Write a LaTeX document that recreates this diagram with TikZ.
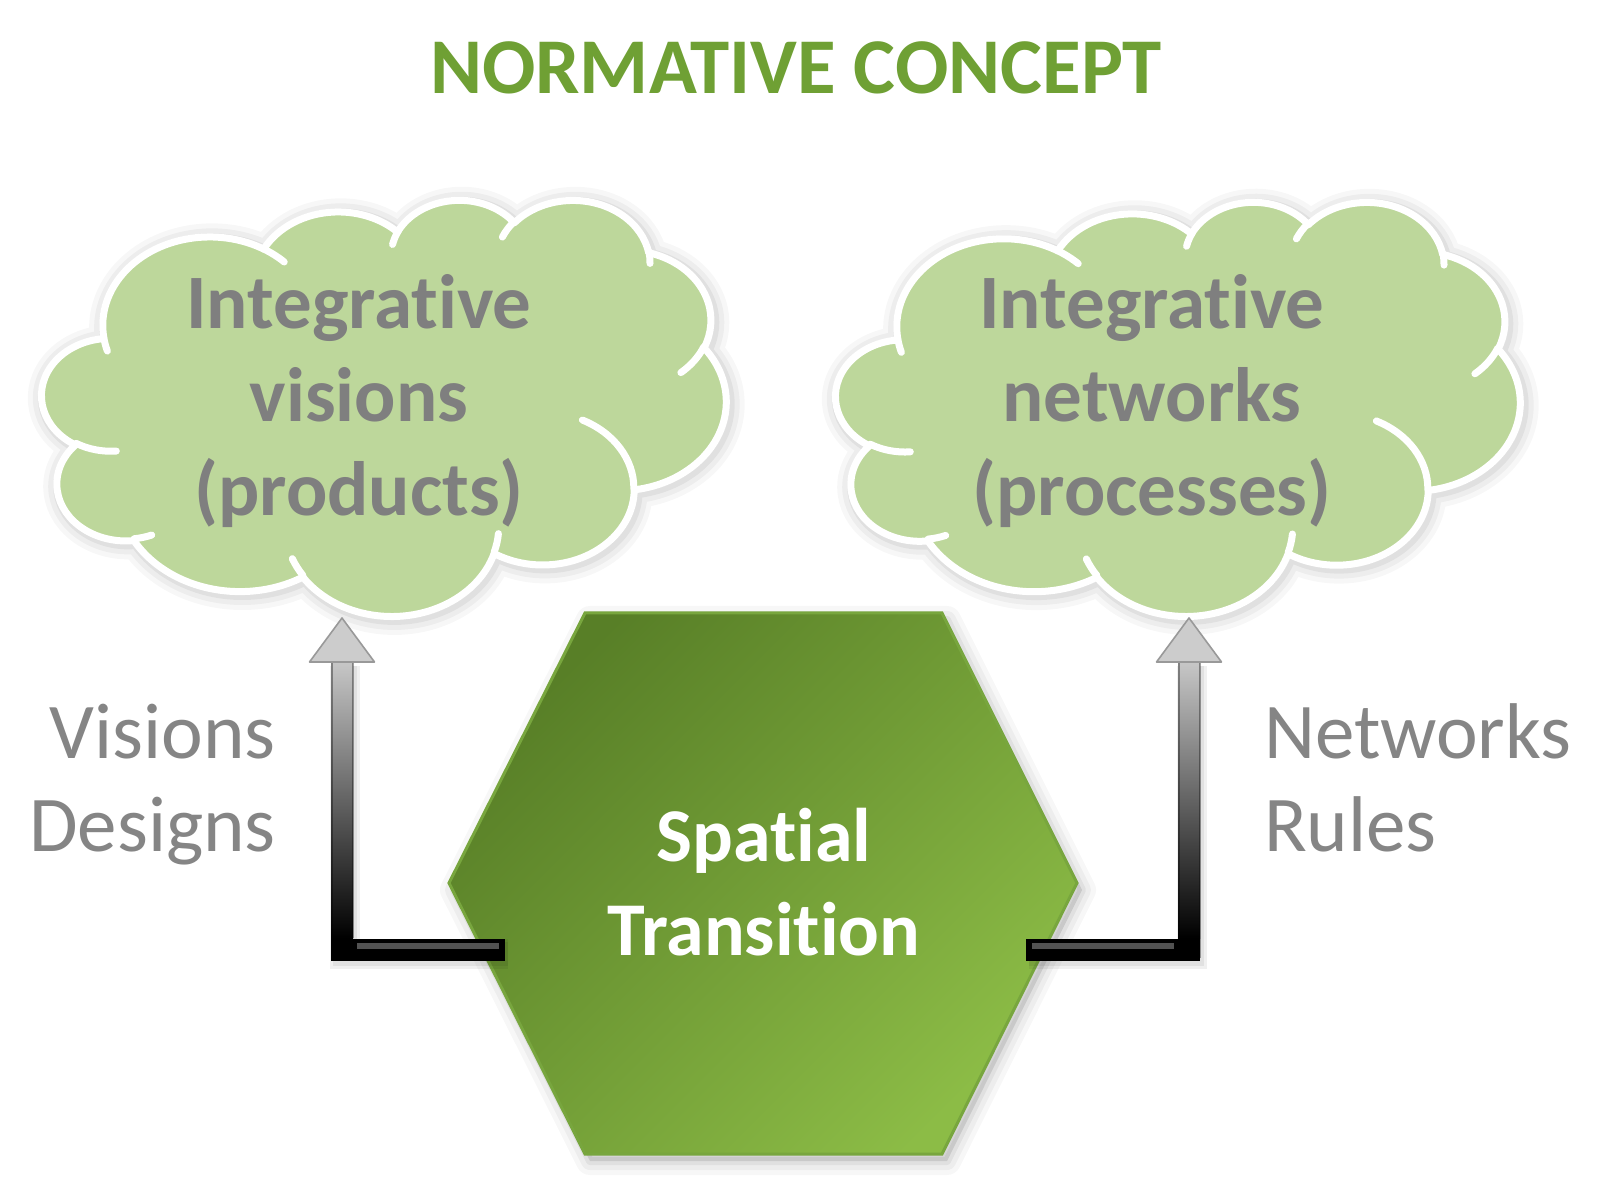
\documentclass[tikz,border=0pt]{standalone}
\usepackage{fontspec}
\setmainfont{Carlito}[Ligatures={NoCommon,NoContextual}]
\usetikzlibrary{calc}
\definecolor{cloudfill}{HTML}{BDD79B}
\definecolor{txtgray}{HTML}{7F7F7F}
\definecolor{sidegray}{HTML}{858585}
\definecolor{titlegreen}{HTML}{6FA034}
\definecolor{hexdark}{HTML}{587F27}
\definecolor{hexlight}{HTML}{8CBC46}
\definecolor{hexedge}{HTML}{78A63E}
\newcommand\mkarc[5]{%
  \pgfmathsetmacro\tmpS{vp(#4,#2,#3)}%
  \pgfmathsetmacro\tmpE{vp(#4+#5,#2,#3)}%
  \expandafter\xdef\csname cl#1\endcsname{arc[x radius=#2pt,y radius=#3pt,start angle=\tmpS,end angle=\tmpE]}%
}
\newcommand\drawcloud[4]{%
  \begin{scope}[shift={(#1,#2)},x=1pt,y=1pt,xscale=#3/864,yscale=-#4/864]
    \foreach \lw/\op in {16/0.03,11/0.04,6/0.05}
      \draw[black,opacity=\op,line width=\lw pt,line join=round,shift={(1.5,2.5)}] \cloudouter;
    \fill[black,opacity=0.10,shift={(1.5,2.5)}] \cloudouter;
    \filldraw[fill=cloudfill,draw=white,line width=3.5pt,line join=round] \cloudouter;
    \draw[cloudarc] (46.93,261.77) \clia;
    \draw[cloudarc] (69.28,348.99) \clib;
    \draw[cloudarc] (164.78,390.90) \clic;
    \draw[cloudarc] (288.27,347.51) \clid;
    \draw[cloudarc] (341.29,229.54) \clie;
    \draw[cloudarc] (417.98,153.54) \clif;
    \draw[cloudarc] (383.24,54.26) \clig;
    \draw[cloudarc] (290.78,39.52) \clih;
    \draw[cloudarc] (221.41,47.20) \clii;
    \draw[cloudarc] (140.00,51.92) \clij;
    \draw[cloudarc] (41.27,157.89) \clik;
  \end{scope}%
}
\begin{document}
\begin{tikzpicture}[x=0.5pt,y=-0.5pt,
  declare function={vp(\a,\w,\h)=\a+mod(atan2(\w*sin(\a),\h*cos(\a))-(\a)+900,360)-180;},
  cloudarc/.style={white,line width=3.5pt,line cap=round},
  cloudtext/.style={font=\bfseries\fontsize{38.5}{46.75}\selectfont,text=txtgray,align=center},
  hextext/.style={font=\bfseries\fontsize{38}{47}\selectfont,text=white,align=center},
  sidetext/.style={font=\fontsize{39.5}{46.5}\selectfont,text=sidegray},
  titletext/.style={font=\bfseries\fontsize{39.5}{48}\selectfont,text=titlegreen},
  conn/.style={black,line width=11pt},
  connshadow/.style={black,opacity=0.06,line width=#1pt},
  shaft/.style={top color=black!22,bottom color=black},
  shaftedge/.style={black,opacity=0.35,line width=1pt},
  bevel/.style={black!68,line width=3pt},
  head/.style={fill=black!20,draw=black!40,line width=0.8pt,line join=round}
  ]
\useasboundingbox (0,0) rectangle (1601,1202);
\fill[white] (0,0) rectangle (1601,1202);

% cloud geometry (PowerPoint cloud, units of 1/100 of 432)
\mkarc{A}{67.53}{91.90}{-190.48748}{123.78053}
\mkarc{B}{53.33}{72.67}{-144.10238}{89.94523}
\mkarc{C}{43.65}{59.45}{-145.80792}{99.72302}
\mkarc{D}{48.57}{65.95}{-130.98607}{117.24173}
\mkarc{E}{53.33}{72.73}{-78.70888}{109.02692}
\mkarc{F}{67.75}{92.20}{-46.26725}{130.269}
\mkarc{G}{57.85}{78.67}{0.62502}{114.03333}
\mkarc{H}{67.52}{92.15}{22.4516}{115.17255}
\mkarc{I}{77.20}{105.43}{66.24263}{75.71102}
\mkarc{J}{43.60}{59.18}{-274.94208}{146.73557}
\mkarc{K}{43.45}{59.45}{-246.8285}{152.51885}
\mkarc{ia}{43.45}{59.45}{86.742}{26.4295}
\mkarc{ib}{43.60}{59.18}{73.61047}{11.44747}
\mkarc{ic}{67.52}{92.15}{137.62415}{14.0811}
\mkarc{id}{67.52}{92.15}{6.45327}{15.99835}
\mkarc{ie}{57.85}{78.67}{-70.29235}{70.91737}
\mkarc{if}{53.33}{72.73}{30.31803}{27.7515}
\mkarc{ig}{48.57}{65.95}{-13.74433}{14.8589}
\mkarc{ih}{48.57}{65.95}{-149.18145}{18.19537}
\mkarc{ii}{43.65}{59.45}{-163.49427}{17.68635}
\mkarc{ij}{67.53}{91.90}{-66.70695}{12.31935}
\mkarc{ik}{67.53}{91.90}{157.65435}{11.85817}
\xdef\cloudouter{(39,143.70) \clA\clB\clC\clD\clE\clF\clG\clH\clI\clJ\clK -- cycle}

% title
\node[titletext] (title) at (796,68) {NORMATIVE CONCEPT};

% clouds
\drawcloud{42}{199}{684}{416}
\drawcloud{836}{201}{684}{414}
\node[cloudtext] (cloudL) at (359,401) {Integrative\\visions\\(products)};
\node[cloudtext] (cloudR) at (1152,401) {Integrative\\networks\\(processes)};

% hexagon
\foreach \lw/\op in {14/0.03,9/0.04,4/0.05}
  \draw[black,opacity=\op,line width=\lw pt,line join=round,shift={(5,7)}]
    (449,883) -- (585,613) -- (942,613) -- (1077,883) -- (942,1154) -- (585,1154) -- cycle;
\fill[black,opacity=0.10,shift={(5,7)}]
    (449,883) -- (585,613) -- (942,613) -- (1077,883) -- (942,1154) -- (585,1154) -- cycle;
\shadedraw[top color=hexdark,bottom color=hexlight,shading angle=45,draw=hexedge,line width=1.5pt,line join=miter]
    (449,883) -- (585,613) -- (942,613) -- (1077,883) -- (942,1154) -- (585,1154) -- cycle;
\node[hextext] (hex) at (764,882) {Spatial\\Transition};

% side labels
\node[sidetext,align=right,anchor=east] (visL) at (283,785) {Visions\\Designs};
\node[sidetext,align=left,anchor=west] (netR) at (1257,778) {Networks\\Rules};

% connectors
\coordinate (lA) at (505,950);
\coordinate (lT) at (342,618);
\coordinate (rA) at (1026,950);
\coordinate (rT) at (1189,618);

\foreach \w in {15,12}
  \draw[connshadow=\w] ($(lA)+(3,4)$) -| ($(lT)+(3,48)$);
\draw[conn] (lA) -| ($(lT)+(0,44)$);
\shade[shaft] ($(lT)+(-11,44)$) rectangle ($(lT)+(11,320)$);
\draw[shaftedge] ($(lT)+(-10.5,44)$) -- ($(lT)+(-10.5,340)$);
\draw[shaftedge] ($(lT)+(10.5,44)$) -- ($(lT)+(10.5,320)$);
\draw[bevel] ($(lT)+(15,328)$) -- ($(lA)+(-6,-4)$);
\filldraw[head] (lT) -- ($(lT)+(-32.5,44)$) -- ($(lT)+(32.5,44)$) -- cycle;

\foreach \w in {15,12}
  \draw[connshadow=\w] ($(rA)+(3,4)$) -| ($(rT)+(3,48)$);
\draw[conn] (rA) -| ($(rT)+(0,44)$);
\shade[shaft] ($(rT)+(-11,44)$) rectangle ($(rT)+(11,320)$);
\draw[shaftedge] ($(rT)+(-10.5,44)$) -- ($(rT)+(-10.5,320)$);
\draw[shaftedge] ($(rT)+(10.5,44)$) -- ($(rT)+(10.5,340)$);
\draw[bevel] ($(rA)+(6,-4)$) -- ($(rT)+(-15,328)$);
\filldraw[head] (rT) -- ($(rT)+(-32.5,44)$) -- ($(rT)+(32.5,44)$) -- cycle;
\end{tikzpicture}
\end{document}
